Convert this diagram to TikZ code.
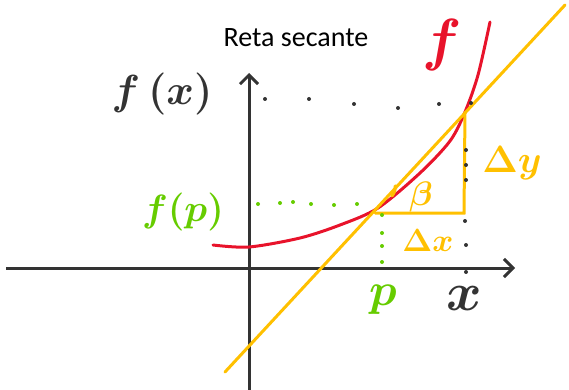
\RequirePackage{fix-cm}
\documentclass[tikz,border=0pt]{standalone}
\usepackage{fontspec}
\setsansfont{Carlito}
\usetikzlibrary{arrows.meta}

\definecolor{inkgray}{HTML}{333333}
\definecolor{inkred}{HTML}{E8132B}
\definecolor{inkgold}{HTML}{FFC000}
\definecolor{inkgreen}{HTML}{66CC00}

\begin{document}
\begin{tikzpicture}[x=1pt, y=-1pt,
        axis/.style={inkgray, line width=3pt, -{Straight Barb[length=9pt, width=18pt, line width=3pt]}},
        curve/.style={inkred, line width=3pt, line cap=round},
        secant/.style={inkgold, line width=3pt, line cap=round},
        hand/.style={font=\fontsize{#1}{#1}\selectfont\boldmath},
        hand/.default=44]
        \useasboundingbox (0,0) rectangle (569,390);

        % axes
        \coordinate (xs) at (6,268);
        \coordinate (xe) at (515,268);
        \coordinate (ys) at (249,390);
        \coordinate (ye) at (249,73);
        \draw[axis] (xs) -- (xe);
        \draw[axis] (ys) -- (ye);

        % function and secant
        \coordinate (P) at (378,208);
        \coordinate (X) at (465,112);
        \draw[curve] plot[smooth] coordinates {(213,245) (249,247) (300,238) (340,225) (P) (420,173) (450,141) (X) (478,75) (490,22)};
        \coordinate (sa) at (225,372);
        \coordinate (sb) at (565,5);
        \draw[secant] (sa) -- (sb);

        % triangle
        \coordinate (tl) at (375,213);
        \coordinate (tr) at (464,213);
        \draw[secant] (tl) -- (tr) -- (X);
        \draw[secant] (392,196) arc[start angle=40, end angle=-5, radius=14];

        % dotted guides
        \foreach \p in {(265,99), (309,99), (354,104), (398,108), (439,104), (471,103),
                (466,150), (466,165), (466,180), (465,221), (466,245), (466,272)}
            \fill[inkgray] \p circle (2);
        \foreach \p in {(258,204), (280,203), (293,202), (311,204), (334,205), (357,204),
                (382,215), (382,233), (382,246), (382,262)}
            \fill[inkgreen] \p circle (2);

        % labels
        \node[font=\sffamily\fontsize{28}{28}\selectfont] (title) at (296,38) {Reta secante};
        \node[hand=42, inkgray] (fx) at (162,94) {$f\,(x)$};
        \node[hand=58, inkred] (f) at (442,45) {$f$};
        \node[hand=38, inkgreen] (fp) at (183,212) {$f(p)$};
        \node[hand=46, inkgreen] (p) at (383,300) {$p$};
        \node[hand=54, inkgray] (x) at (464,298) {$x$};
        \node[hand=34, inkgold] (b) at (421,197) {$\beta$};
        \node[hand=32, inkgold] (dx) at (428,241) {$\Delta x$};
        \node[hand=38, inkgold] (dy) at (512,163) {$\Delta y$};
    \end{tikzpicture}
\end{document}
